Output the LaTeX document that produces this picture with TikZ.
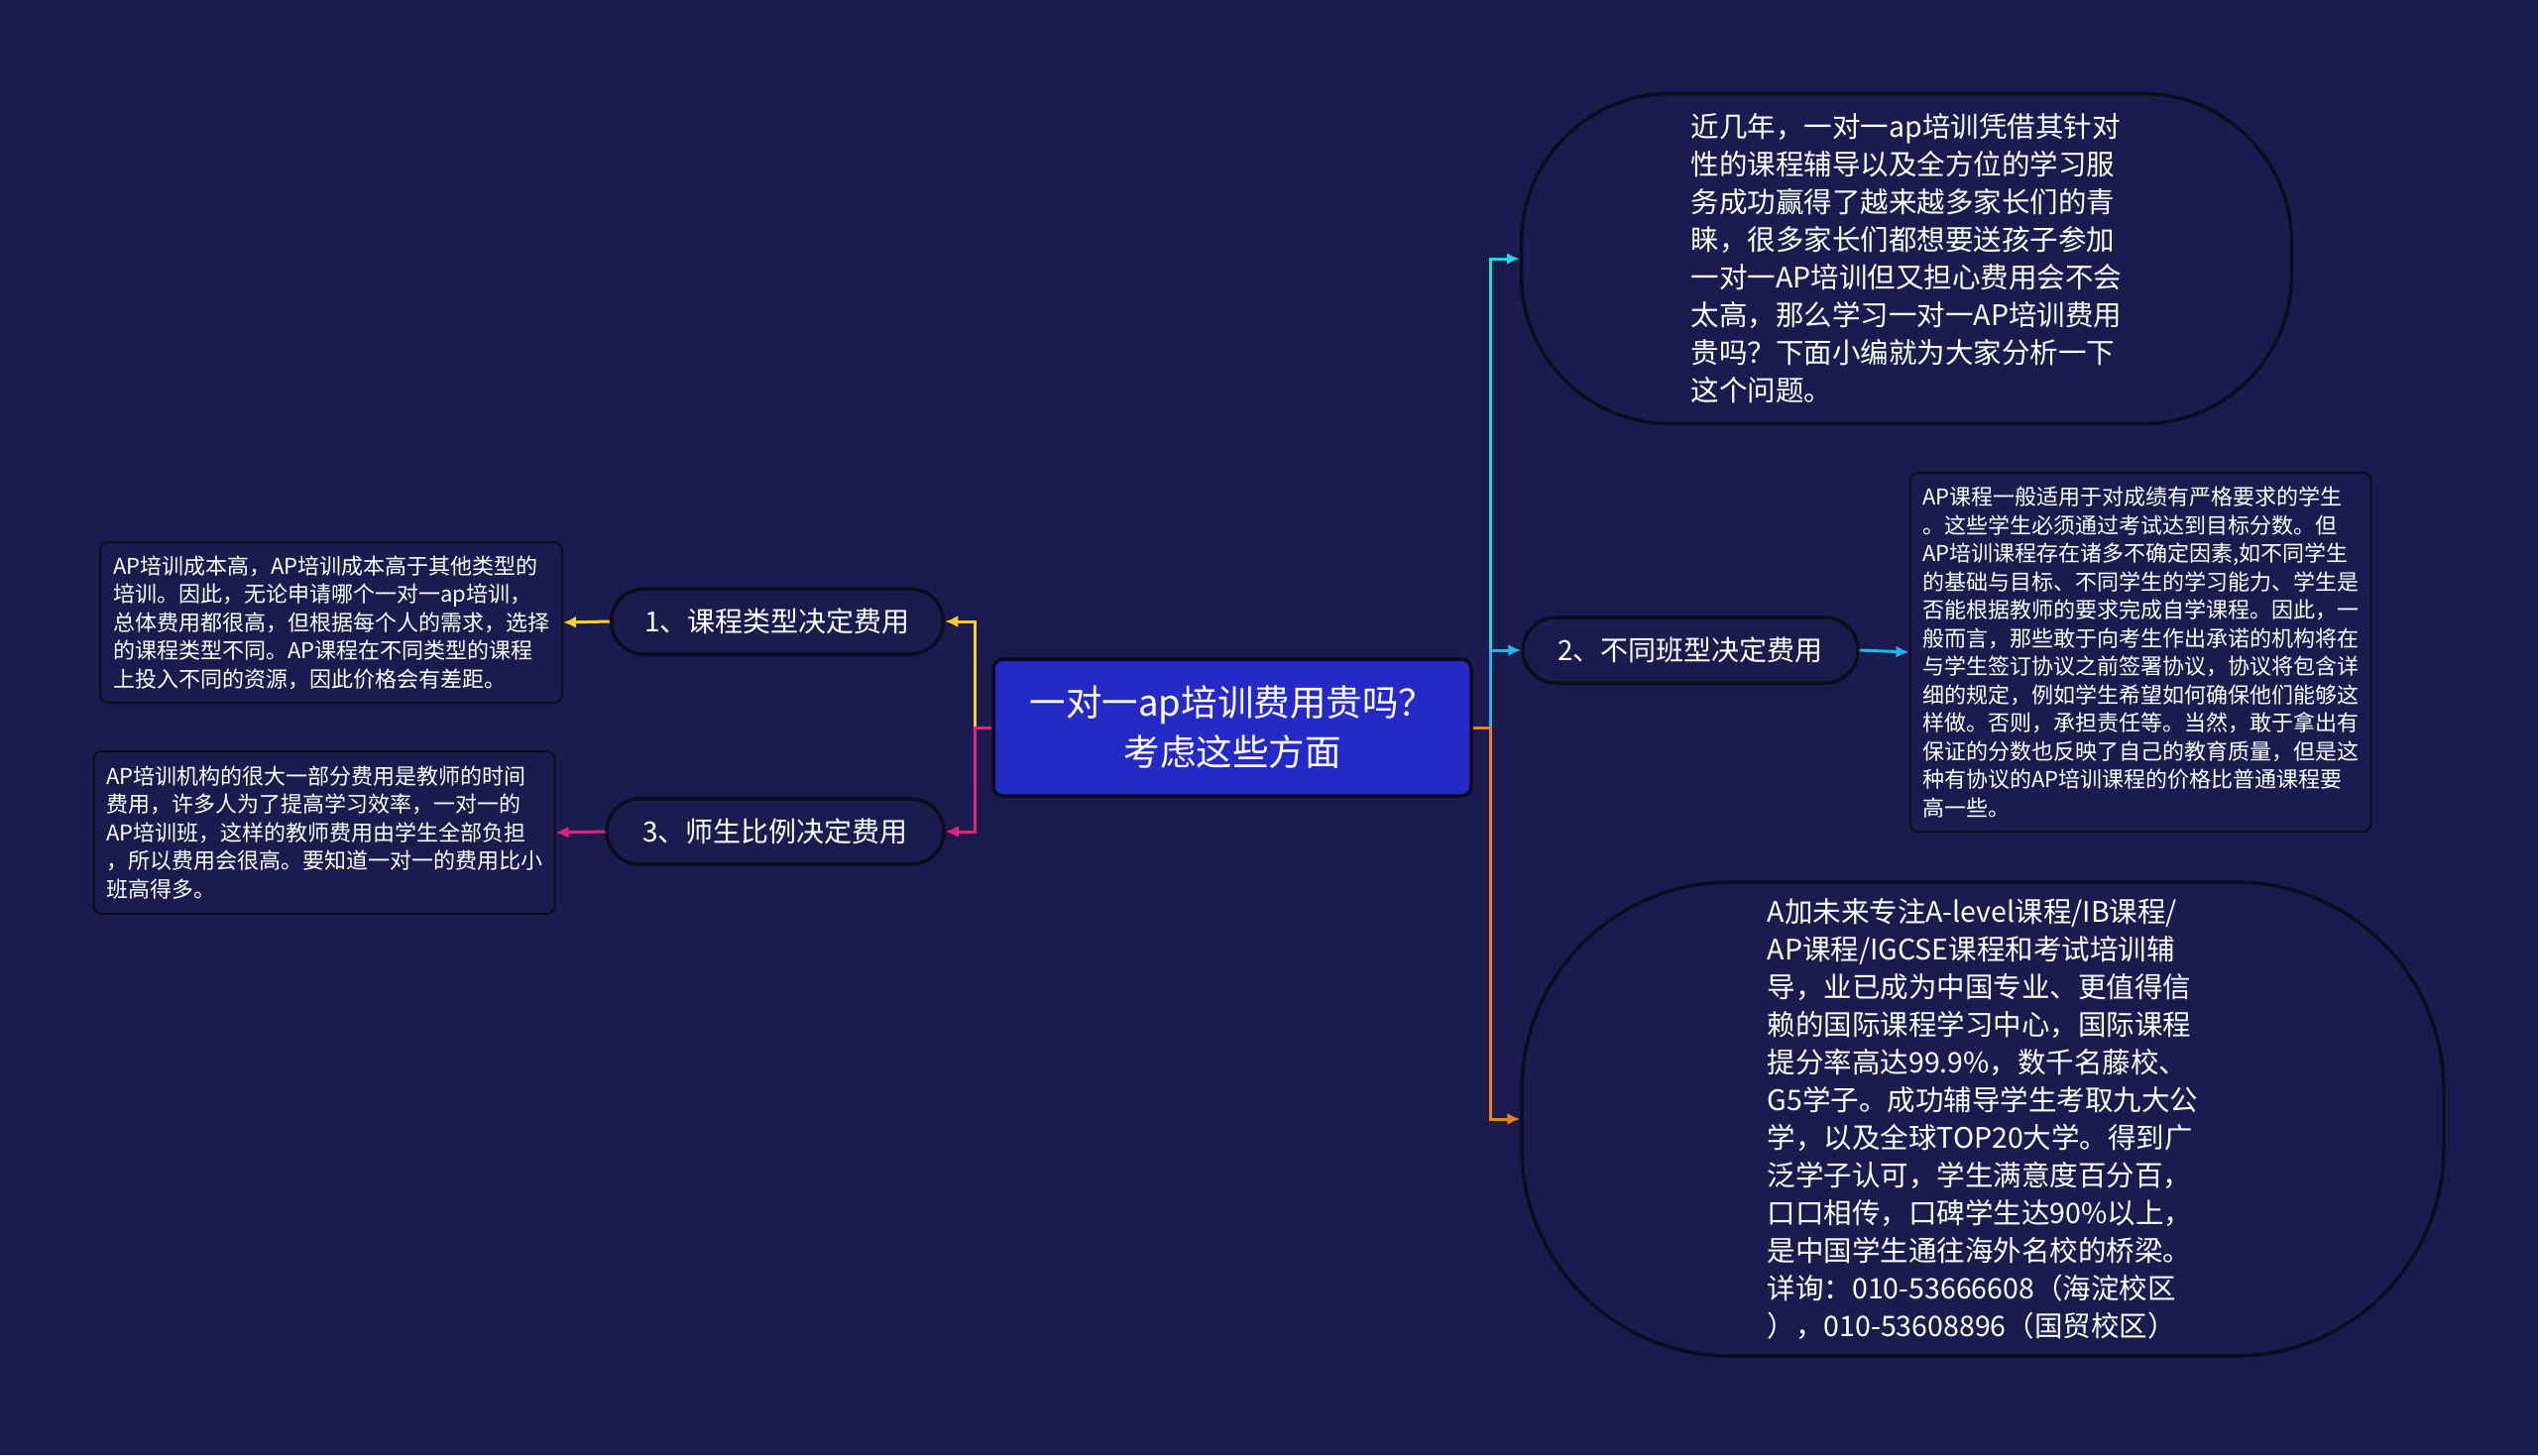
\documentclass[tikz,border=0pt]{standalone}
\usepackage{fontspec}
\setmainfont{Noto Sans CJK SC}
\usetikzlibrary{arrows.meta}
\definecolor{bg}{RGB}{27,27,80}
\definecolor{rim}{RGB}{12,12,28}
\definecolor{core}{RGB}{37,41,197}
\definecolor{yel}{RGB}{247,208,44}
\definecolor{pnk}{RGB}{226,35,125}
\definecolor{teal}{RGB}{40,214,222}
\definecolor{sky}{RGB}{35,181,233}
\definecolor{org}{RGB}{240,128,30}

\begin{document}
\begin{tikzpicture}[x=1pt, y=-1pt]
  \tikzstyle{topic}=[draw=rim, line width=3.5pt, fill=bg, text=white, rounded corners=33pt, minimum height=66pt, inner sep=0pt, font=\fontsize{28}{34}\selectfont]
  \tikzstyle{note}=[draw=rim, line width=2pt, fill=bg, text=white, rounded corners=8pt, align=left, inner sep=0pt, font=\fontsize{22}{28.5}\selectfont]
  \tikzstyle{bubble}=[draw=rim, line width=3.5pt, fill=bg, text=white, align=left, inner sep=0pt, font=\fontsize{28.5}{38}\selectfont]
  \tikzstyle{link}=[line width=3pt, -{Latex[length=13pt,width=12pt]}]

\fill[bg] (0,0) rectangle (2560,1468);

\node[draw=rim, line width=3.5pt, fill=core, text=white, rounded corners=10pt, align=center, minimum width=482pt, minimum height=138pt, font=\fontsize{36.5}{50}\selectfont] (c) at (1243,734) {一对一ap培训费用贵吗？\\考虑这些方面};

\node[topic, minimum width=335pt] (n1) at (784,627) {1、课程类型决定费用};
\node[topic, minimum width=338pt] (n2) at (1705,656) {2、不同班型决定费用};
\node[topic, minimum width=340pt] (n3) at (782,839) {3、师生比例决定费用};

\node[bubble, rounded corners=150pt, minimum width=777pt, minimum height=333pt] (t) at (1923,261) {近几年，一对一ap培训凭借其针对\\性的课程辅导以及全方位的学习服\\务成功赢得了越来越多家长们的青\\睐，很多家长们都想要送孩子参加\\一对一AP培训但又担心费用会不会\\太高，那么学习一对一AP培训费用\\贵吗？下面小编就为大家分析一下\\这个问题。};

\node[bubble, rounded corners=210pt, minimum width=930pt, minimum height=478pt] (b) at (2000,1129) {A加未来专注A-level课程/IB课程/\\AP课程/IGCSE课程和考试培训辅\\导，业已成为中国专业、更值得信\\赖的国际课程学习中心，国际课程\\提分率高达99.9\%，数千名藤校、\\G5学子。成功辅导学生考取九大公\\学，以及全球TOP20大学。得到广\\泛学子认可，学生满意度百分百，\\口口相传，口碑学生达90\%以上，\\是中国学生通往海外名校的桥梁。\\详询：010-53666608（海淀校区\\），010-53608896（国贸校区）};

\node[note, minimum width=465pt, minimum height=362pt] (r2) at (2159,658) {AP课程一般适用于对成绩有严格要求的学生\\。这些学生必须通过考试达到目标分数。但\\AP培训课程存在诸多不确定因素,如不同学生\\的基础与目标、不同学生的学习能力、学生是\\否能根据教师的要求完成自学课程。因此，一\\般而言，那些敢于向考生作出承诺的机构将在\\与学生签订协议之前签署协议，协议将包含详\\细的规定，例如学生希望如何确保他们能够这\\样做。否则，承担责任等。当然，敢于拿出有\\保证的分数也反映了自己的教育质量，但是这\\种有协议的AP培训课程的价格比普通课程要\\高一些。};

\node[note, minimum width=466pt, minimum height=162pt] (l1) at (334,628) {AP培训成本高，AP培训成本高于其他类型的\\培训。因此，无论申请哪个一对一ap培训，\\总体费用都很高，但根据每个人的需求，选择\\的课程类型不同。AP课程在不同类型的课程\\上投入不同的资源，因此价格会有差距。};

\node[note, minimum width=465pt, minimum height=164pt] (l3) at (327,840) {AP培训机构的很大一部分费用是教师的时间\\费用，许多人为了提高学习效率，一对一的\\AP培训班，这样的教师费用由学生全部负担\\，所以费用会很高。要知道一对一的费用比小\\班高得多。};

\draw[link, teal] (c.east) -- ++(18,0) |- (t.west);
\draw[link, sky] (c.east) -- ++(18,0) |- (n2.west);
\draw[link, org] (c.east) -- ++(18,0) |- (b.west);
\draw[link, yel] (c.west) -- ++(-17,0) |- (n1.east);
\draw[link, pnk] (c.west) -- ++(-17,0) |- (n3.east);

\draw[link, sky] (n2.east) -- (r2.west);
\draw[link, yel] (n1.west) -- (l1.east);
\draw[link, pnk] (n3.west) -- (l3.east);

\end{tikzpicture}
\end{document}
